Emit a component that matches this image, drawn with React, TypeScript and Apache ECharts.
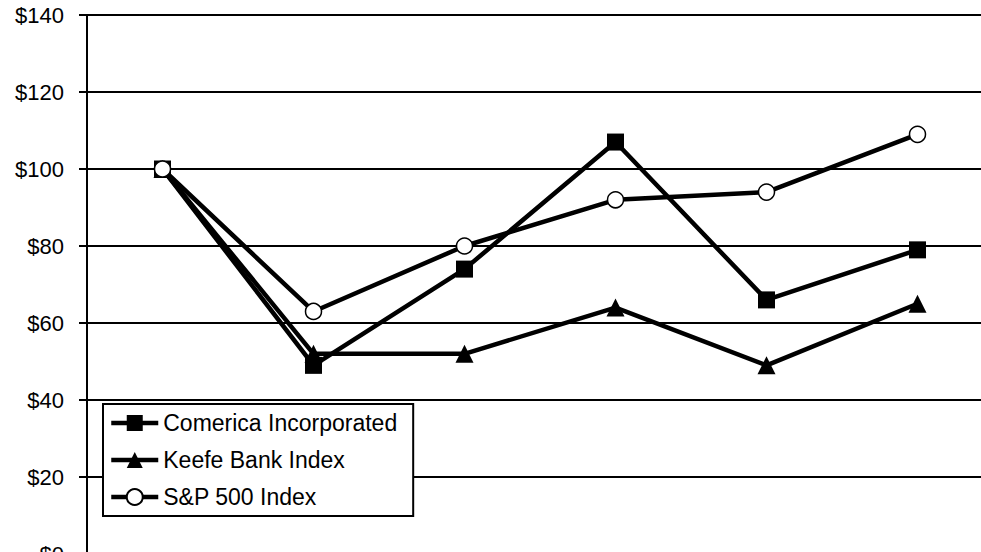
import React, { useEffect, useRef } from "react";
import * as echarts from "echarts";

const categories = ["2002", "2003", "2004", "2005", "2006", "2007"];
const comerica = [100, 49, 74, 107, 66, 79];
const keefe = [100, 52, 52, 64, 49, 65];
const sp500 = [100, 63, 80, 92, 94, 109];
const yTicks = { min: 0, max: 140, interval: 20 };

export default function App() {
  const ref = useRef<HTMLDivElement>(null);
  useEffect(() => {
    const chart = echarts.init(ref.current!, null, { renderer: "svg" });
    const font = "'Liberation Sans', Arial, sans-serif";
    const line = (name: string, data: number[], symbol: string, size: number, fill: string) => ({
      name,
      type: "line",
      data,
      symbol,
      symbolSize: size,
      showSymbol: true,
      lineStyle: { color: "#000", width: 4.5 },
      itemStyle: { color: fill, borderColor: "#000", borderWidth: fill === "#fff" ? 1.5 : 0, opacity: 1 },
      emphasis: { disabled: true },
    });
    chart.setOption({
      animation: false,
      backgroundColor: "#fff",
      grid: { left: 87, top: 15, right: 0, bottom: 0, containLabel: false, outerBoundsMode: "none" },
      xAxis: {
        type: "category",
        data: categories,
        boundaryGap: true,
        axisLine: { show: false },
        axisTick: { show: false },
        axisLabel: { show: false },
        splitLine: { show: false },
      },
      yAxis: {
        type: "value",
        min: yTicks.min,
        max: yTicks.max,
        interval: yTicks.interval,
        axisLine: { show: true, lineStyle: { color: "#000", width: 2 } },
        axisTick: { show: true, length: 8, lineStyle: { color: "#000", width: 2 } },
        axisLabel: {
          formatter: (v: number) => "$" + v,
          color: "#000",
          fontSize: 22,
          fontFamily: font,
          margin: 23,
        },
        splitLine: { show: true, lineStyle: { color: "#000", width: 2 } },
      },
      legend: {
        orient: "vertical",
        left: 103,
        top: 404,
        itemWidth: 47,
        itemHeight: 20,
        itemGap: 13,
        padding: [7, 16, 7, 6],
        borderColor: "#000",
        borderWidth: 2,
        backgroundColor: "#fff",
        lineStyle: { width: 4.5, color: "#000" },
        textStyle: { color: "#000", fontSize: 23, fontFamily: font, lineHeight: 24 },
        data: ["Comerica Incorporated", "Keefe Bank Index", "S&P 500 Index"],
      },
      series: [
        line("Comerica Incorporated", comerica, "rect", 17, "#000"),
        line("Keefe Bank Index", keefe, "triangle", 18, "#000"),
        line("S&P 500 Index", sp500, "circle", 16, "#fff"),
      ],
    });
    return () => chart.dispose();
  }, []);
  return (
    <div style={{ position: "absolute", left: 0, top: 0, width: 981, height: 552, overflow: "hidden" }}>
      <div ref={ref} style={{ width: 993, height: 554 }} />
    </div>
  );
}
